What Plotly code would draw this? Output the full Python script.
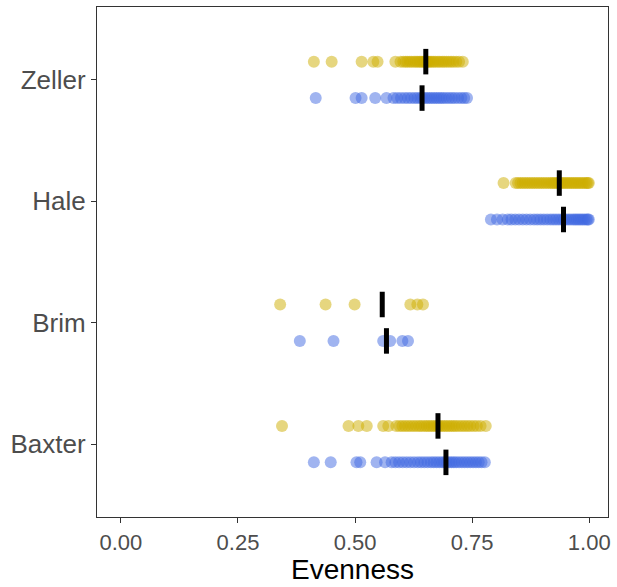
import plotly.graph_objects as go

# Sites, bottom to top on the y axis
sites = ["Baxter", "Brim", "Hale", "Zeller"]

# Evenness per site, two groups each (gold = upper row, blue = lower row)
baxter_gold = [0.344, 0.486, 0.507, 0.525, 0.560, 0.571, 0.588, 0.595, 0.601, 0.607,
               0.613, 0.619, 0.625, 0.631, 0.637, 0.642, 0.648, 0.653, 0.658, 0.663,
               0.668, 0.673, 0.677, 0.681, 0.686, 0.691, 0.696, 0.701, 0.706, 0.711,
               0.716, 0.722, 0.728, 0.734, 0.740, 0.746, 0.753, 0.760, 0.768, 0.779]
baxter_blue = [0.412, 0.448, 0.503, 0.511, 0.546, 0.564, 0.578, 0.586, 0.594, 0.602,
               0.610, 0.618, 0.626, 0.634, 0.641, 0.648, 0.655, 0.662, 0.668, 0.674,
               0.680, 0.686, 0.691, 0.696, 0.701, 0.706, 0.711, 0.716, 0.722, 0.728,
               0.734, 0.740, 0.746, 0.752, 0.758, 0.764, 0.770, 0.777]
brim_gold = [0.340, 0.437, 0.499, 0.618, 0.633, 0.645]
brim_blue = [0.382, 0.454, 0.560, 0.575, 0.601, 0.613]
hale_gold = [0.817, 0.843, 0.848, 0.853, 0.858, 0.863, 0.868, 0.873, 0.878, 0.883,
             0.888, 0.893, 0.898, 0.903, 0.908, 0.913, 0.918, 0.922, 0.926, 0.930,
             0.934, 0.938, 0.942, 0.946, 0.950, 0.954, 0.958, 0.962, 0.966, 0.970,
             0.974, 0.978, 0.982, 0.986, 0.990, 0.994, 0.997, 0.999]
hale_blue = [0.790, 0.803, 0.815, 0.826, 0.834, 0.842, 0.850, 0.858, 0.866, 0.874,
             0.882, 0.889, 0.896, 0.903, 0.910, 0.917, 0.923, 0.929, 0.935, 0.941,
             0.946, 0.951, 0.956, 0.961, 0.966, 0.970, 0.974, 0.978, 0.982, 0.986,
             0.990, 0.994, 0.997, 0.999]
zeller_gold = [0.412, 0.450, 0.514, 0.539, 0.548, 0.586, 0.597, 0.603, 0.608, 0.612,
               0.617, 0.621, 0.626, 0.630, 0.634, 0.638, 0.641, 0.645, 0.648, 0.650,
               0.652, 0.654, 0.657, 0.660, 0.664, 0.668, 0.672, 0.677, 0.681, 0.686,
               0.690, 0.695, 0.700, 0.705, 0.710, 0.716, 0.722, 0.730]
zeller_blue = [0.416, 0.501, 0.514, 0.543, 0.567, 0.582, 0.590, 0.598, 0.606, 0.613,
               0.620, 0.627, 0.633, 0.639, 0.644, 0.649, 0.654, 0.659, 0.664, 0.669,
               0.674, 0.679, 0.684, 0.689, 0.695, 0.701, 0.707, 0.713, 0.720, 0.727,
               0.733, 0.739]

# Median evenness per site and group
median_gold = [0.677, 0.558, 0.936, 0.651]
median_blue = [0.694, 0.567, 0.945, 0.643]

gold_groups = [baxter_gold, brim_gold, hale_gold, zeller_gold]
blue_groups = [baxter_blue, brim_blue, hale_blue, zeller_blue]

GOLD = "#CDAD00"
BLUE = "#4169E1"
DODGE = 0.15
HALF_BAR = 0.105
FONT = "Liberation Sans, Arial, sans-serif"

fig = go.Figure()

for i, (g, b) in enumerate(zip(gold_groups, blue_groups)):
    pos = i + 1
    fig.add_trace(go.Scatter(
        x=g, y=[pos + DODGE] * len(g), mode="markers",
        marker=dict(color=GOLD, size=12, opacity=0.5, line=dict(width=0)),
        showlegend=False, hoverinfo="x"))
    fig.add_trace(go.Scatter(
        x=b, y=[pos - DODGE] * len(b), mode="markers",
        marker=dict(color=BLUE, size=12, opacity=0.5, line=dict(width=0)),
        showlegend=False, hoverinfo="x"))

# Median markers as short vertical bars
for i in range(len(sites)):
    pos = i + 1
    for m, off in ((median_gold[i], DODGE), (median_blue[i], -DODGE)):
        fig.add_trace(go.Scatter(
            x=[m, m], y=[pos + off - HALF_BAR, pos + off + HALF_BAR],
            mode="lines", line=dict(color="black", width=5),
            showlegend=False, hoverinfo="skip"))

axis_common = dict(
    showgrid=False, zeroline=False, showline=True, mirror=True,
    linecolor="#333333", linewidth=1.2,
    ticks="outside", ticklen=5, tickwidth=1.2, tickcolor="#333333",
)

fig.update_layout(
    width=617, height=587,
    margin=dict(l=97, r=6, t=7, b=70),
    paper_bgcolor="white", plot_bgcolor="white",
    xaxis=dict(
        range=[-0.051, 1.040],
        tickvals=[0, 0.25, 0.5, 0.75, 1.0],
        ticktext=["0.00", "0.25", "0.50", "0.75", "1.00"],
        tickfont=dict(family=FONT, size=22, color="#4D4D4D"),
        title=dict(text="Evenness", standoff=4,
                   font=dict(family=FONT, size=28, color="black")),
        **axis_common),
    yaxis=dict(
        range=[0.4, 4.6],
        tickvals=[1, 2, 3, 4],
        ticktext=sites,
        tickfont=dict(family=FONT, size=26, color="#4D4D4D"),
        **axis_common),
)

fig.write_html("out.html")
